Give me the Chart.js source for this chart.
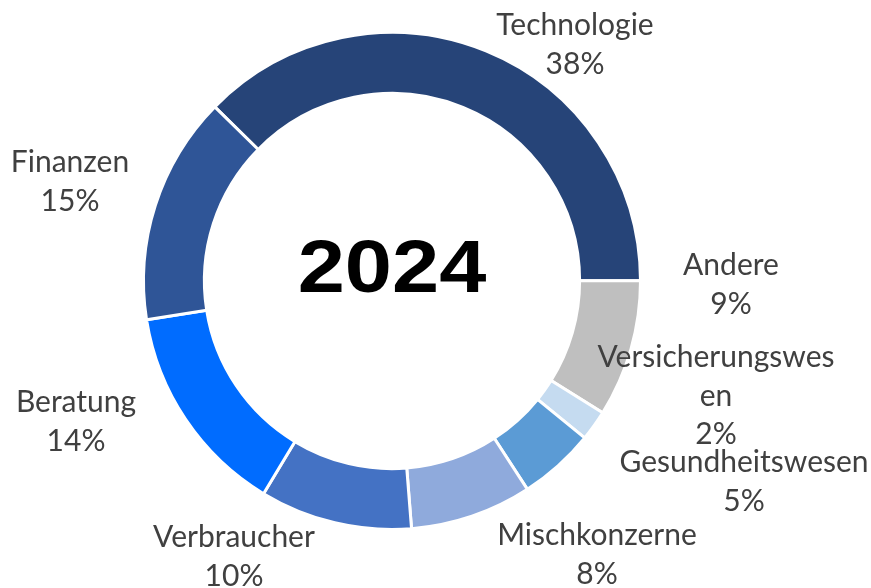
<!DOCTYPE html>
<html>
<head>
<meta charset="utf-8">
<script src="https://cdn.jsdelivr.net/npm/chart.js@4"></script>
<style>
  html, body { margin: 0; padding: 0; background: #fff; }
  #wrap { width: 871px; height: 588px; position: relative; }
</style>
</head>
<body>
<div id="wrap"><canvas id="pieChart"></canvas></div>
<script>
var categories = ['Technologie', 'Andere', 'Versicherungswesen', 'Gesundheitswesen', 'Mischkonzerne', 'Verbraucher', 'Beratung', 'Finanzen'];
var shares = [38, 9, 2, 5, 8, 10, 14, 15];
var centerTitle = '2024';

var colors = ['#264478', '#BFBFBF', '#C5DBF0', '#5B9BD5', '#8FAADC', '#4472C4', '#006CFF', '#2F5597'];

// label placement relative to the ring centre (first baseline), plus wrap width
var labelStyle = [
    { dx: 183, dy: -246, wrap: 999 },
    { dx: 339, dy: -6, wrap: 999 },
    { dx: 324, dy: 86, wrap: 240 },
    { dx: 352, dy: 191, wrap: 999 },
    { dx: 205, dy: 264, wrap: 999 },
    { dx: -158, dy: 266, wrap: 999 },
    { dx: -316, dy: 131, wrap: 999 },
    { dx: -322, dy: -109, wrap: 999 }
];

function breakWord(ctx, text, maxW) {
    var lines = [], cur = '';
    for (var i = 0; i < text.length; i++) {
        if (ctx.measureText(cur + text[i]).width > maxW && cur) {
            lines.push(cur);
            cur = text[i];
        } else {
            cur += text[i];
        }
    }
    lines.push(cur);
    return lines;
}

var outsideLabels = {
    id: 'outsideLabels',
    afterDraw: function (chart) {
        var ctx = chart.ctx;
        var arc = chart.getDatasetMeta(0).data[0];
        var cx = arc.x, cy = arc.y;
        ctx.save();
        ctx.font = '30px Lato, "Open Sans", sans-serif';
        ctx.fillStyle = '#404040';
        ctx.textAlign = 'center';
        ctx.textBaseline = 'alphabetic';
        categories.forEach(function (name, i) {
            var st = labelStyle[i];
            var lines = breakWord(ctx, name, st.wrap);
            lines.push(shares[i] + '%');
            lines.forEach(function (ln, k) {
                ctx.fillText(ln, cx + st.dx, cy + st.dy + k * 38.5);
            });
        });
        // centre title
        ctx.fillStyle = '#000';
        ctx.font = 'bold 75px "Liberation Sans", Arial, sans-serif';
        ctx.translate(cx, cy + 11);
        ctx.scale(1.13, 1);
        ctx.fillText(centerTitle, 0, 0);
        ctx.restore();
    }
};

var ctx = document.getElementById('pieChart').getContext('2d');
var myPieChart = new Chart(ctx, {
    type: 'doughnut',
    data: {
        labels: categories,
        datasets: [{
            data: shares,
            backgroundColor: colors,
            borderColor: '#ffffff',
            borderWidth: 3
        }]
    },
    options: {
        responsive: true,
        maintainAspectRatio: false,
        animation: false,
        cutout: '75.5%',
        rotation: -45.5,
        layout: { padding: { left: 142, right: 229, top: 31, bottom: 57 } },
        plugins: {
            legend: { display: false },
            tooltip: { enabled: false }
        }
    },
    plugins: [outsideLabels]
});
</script>
</body>
</html>
